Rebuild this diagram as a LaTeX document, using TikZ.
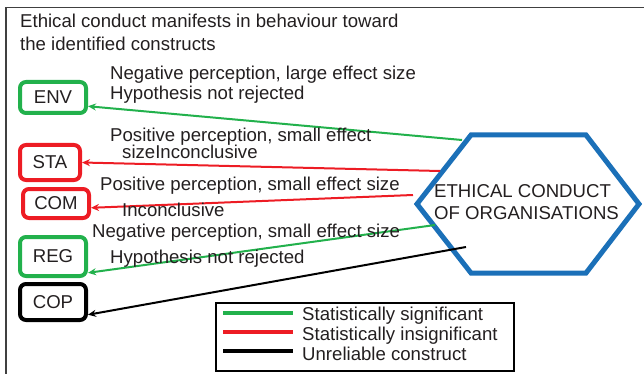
\documentclass[tikz,border=0pt]{standalone}
\usepackage{fontspec}
\setmainfont{Liberation Sans}
\usetikzlibrary{arrows.meta}
\definecolor{cgreen}{RGB}{34,177,76}
\definecolor{cred}{RGB}{237,28,36}
\definecolor{cblue}{RGB}{27,112,184}
\definecolor{cframe}{RGB}{64,64,64}
\definecolor{ctext}{RGB}{35,31,32}
\begin{document}
\begin{tikzpicture}[x=1pt,y=-1pt,
  txt/.style={font=\fontsize{18.6}{22}\selectfont, text=ctext, inner sep=0pt},
  lbl/.style={txt, anchor=base west},
  cbox/.style={txt, draw=#1, line width=4pt, rounded corners=6pt, inner sep=0pt},
  conn/.style={draw=#1, line width=2pt, -{Stealth[length=8pt,width=7pt]}},
  legline/.style={draw=#1, line width=4pt}]
\useasboundingbox (0,0) rectangle (644,374);
% frame
\draw[cframe, line width=1.6pt] (6,374) -- (6,7.5) -- (644,7.5);
% title
\node[lbl] (t1) at (20,28) {Ethical conduct manifests in behaviour toward};
\node[lbl] (t2) at (20,51) {the identified constructs};
% construct boxes
\node[cbox=cgreen, minimum width=66pt, minimum height=31pt] (ENV) at (53,97.5) {ENV};
\node[cbox=cred, minimum width=60pt, minimum height=35pt] (STA) at (50,162.5) {STA};
\node[cbox=cred, minimum width=66pt, minimum height=29pt] (COM) at (56,203.5) {COM};
\node[cbox=cgreen, minimum width=66pt, minimum height=39pt] (REG) at (53,256.5) {REG};
\node[cbox=black, minimum width=66pt, minimum height=36pt] (COP) at (53,302) {COP};
% hexagon
\draw[cblue, line width=5pt] (471,135) -- (586,135) -- (639,204) -- (586,273) -- (471,273) -- (417,204) -- cycle;
\node[txt, anchor=west, align=left] (hex) at (434,202.5) {ETHICAL CONDUCT\\OF ORGANISATIONS};
% start points
\coordinate (g1) at (462,140);
\coordinate (r1) at (440,171);
\coordinate (r2) at (413,195);
\coordinate (g2) at (435,225);
\coordinate (k1) at (466,247);
% connectors
\draw[conn=cgreen] (g1) -- (ENV.-14);
\draw[conn=cred] (r1) -- (STA.east);
\draw[conn=cred] (r2) -- (COM.-7);
\draw[conn=cgreen] (g2) -- (REG.-25);
\draw[conn=black] (k1) -- (COP.-20);
% labels
\node[lbl] (l1a) at (110,80) {Negative perception, large effect size};
\node[lbl] (l1b) at (110,99.5) {Hypothesis not rejected};
\node[lbl] (l2a) at (110,142) {Positive perception, small effect};
\node[lbl] (l2b) at (122,158) {sizeInconclusive};
\node[lbl] (l3a) at (100,190) {Positive perception, small effect size};
\node[lbl] (l3b) at (122,216) {Inconclusive};
\node[lbl] (l4a) at (92,237) {Negative perception, small effect size};
\node[lbl] (l4b) at (110,263) {Hypothesis not rejected};
% legend
\draw[black, line width=1.8pt] (216,303) rectangle (514,371);
\draw[legline=cgreen] (223,313) -- (293,313);
\draw[legline=cred] (223,332) -- (293,332);
\draw[legline=black] (223,351) -- (293,351);
\node[lbl] (lg1) at (302,320.5) {Statistically significant};
\node[lbl] (lg2) at (302,340) {Statistically insignificant};
\node[lbl] (lg3) at (302,360) {Unreliable construct};
\end{tikzpicture}
\end{document}
